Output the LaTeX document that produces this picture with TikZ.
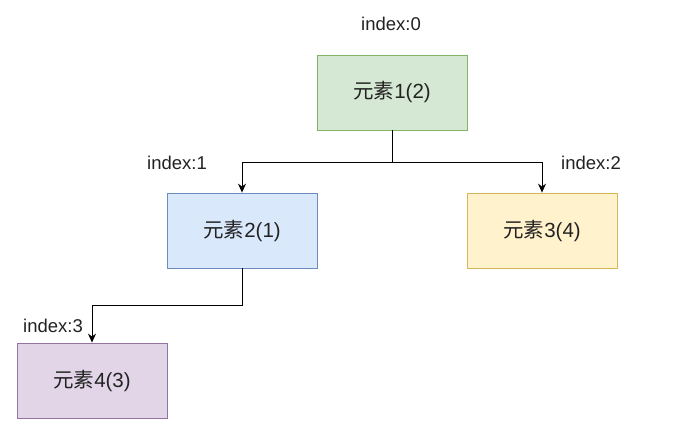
\documentclass[tikz,border=0pt]{standalone}
\usepackage{fontspec}
\setmainfont{Liberation Sans}
\newfontfamily\cjk{Noto Sans CJK SC}
\usetikzlibrary{arrows.meta}
\definecolor{gfill}{HTML}{D5E8D4}\definecolor{gline}{HTML}{82B366}
\definecolor{bfill}{HTML}{DAE8FC}\definecolor{bline}{HTML}{6C8EBF}
\definecolor{yfill}{HTML}{FFF2CC}\definecolor{yline}{HTML}{D6B656}
\definecolor{pfill}{HTML}{E1D5E7}\definecolor{pline}{HTML}{9673A6}
\definecolor{txt}{HTML}{222222}
\tikzset{
  elem/.style={draw, line width=0.8pt, minimum width=150pt, minimum height=75pt, inner sep=0pt, font=\fontsize{20.5}{24}\selectfont, text=txt},
  idx/.style={font=\fontsize{18.5}{22}\selectfont, text=txt, inner sep=0pt},
  conn/.style={line width=0.9pt, draw=black, -{Stealth[length=9pt,width=8pt]}}
}
\begin{document}
\begin{tikzpicture}[x=1pt,y=-1pt]
\useasboundingbox (0,0) rectangle (700,428);
\fill[white] (0,0) rectangle (700,428);
\node[elem, fill=gfill, draw=gline] (e1) at (392,92.5) {{\cjk 元素}1(2)};
\node[elem, fill=bfill, draw=bline] (e2) at (242,230.5) {{\cjk 元素}2(1)};
\node[elem, fill=yfill, draw=yline] (e3) at (542,230.5) {{\cjk 元素}3(4)};
\node[elem, fill=pfill, draw=pline] (e4) at (92,380.5) {{\cjk 元素}4(3)};
\node[idx] (i0) at (391,24) {index:0};
\node[idx] (i1) at (177,163) {index:1};
\node[idx] (i2) at (591,163) {index:2};
\node[idx] (i3) at (53,326) {index:3};
\draw[conn] (e1.south) -- ++(0,32) -| (e2.north);
\draw[conn] (e1.south) -- ++(0,32) -| (e3.north);
\draw[conn] (e2.south) -- ++(0,37) -| (e4.north);
\end{tikzpicture}
\end{document}
